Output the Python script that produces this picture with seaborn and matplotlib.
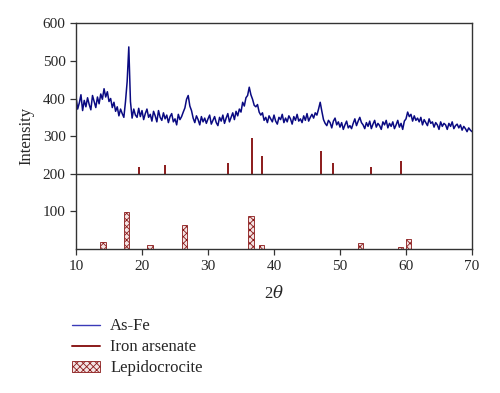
import numpy as np
import pandas as pd
import matplotlib
matplotlib.use('Agg')
import matplotlib.pyplot as plt
import seaborn as sns
from matplotlib.lines import Line2D
from matplotlib.patches import Patch

# As-Fe pattern, every 0.25 deg from 10 to 70
two_theta = np.arange(0, 241) * 0.25 + 10
as_fe = [
    405, 372, 388, 410, 368, 395, 378, 402,
    384, 370, 408, 392, 376, 404, 386, 412,
    398, 426, 404, 418, 392, 400, 376, 390,
    366, 378, 354, 372, 360, 350, 392, 445,
    537, 392, 348, 372, 356, 350, 374, 352,
    368, 344, 360, 372, 350, 358, 340, 366,
    354, 338, 368, 350, 342, 362, 346, 356,
    336, 352, 360, 338, 346, 330, 358, 344,
    352, 364, 375, 398, 408, 380, 368, 348,
    336, 354, 344, 330, 352, 338, 348, 334,
    346, 356, 332, 342, 352, 336, 328, 350,
    340, 356, 334, 348, 360, 338, 350, 362,
    344, 366, 354, 372, 364, 390, 380, 402,
    408, 430, 410, 398, 382, 378, 384, 364,
    356, 362, 342, 350, 336, 354, 346, 338,
    356, 340, 332, 350, 344, 358, 336, 348,
    338, 354, 346, 332, 352, 342, 358, 340,
    346, 336, 354, 342, 360, 340, 350, 358,
    348, 362, 356, 372, 390, 366, 344, 334,
    328, 342, 336, 322, 340, 348, 330, 338,
    324, 336, 318, 330, 340, 322, 328, 320,
    334, 346, 328, 340, 350, 336, 330, 320,
    336, 326, 340, 320, 332, 342, 324, 334,
    328, 318, 338, 330, 342, 322, 334, 326,
    338, 320, 330, 342, 324, 334, 318, 340,
    346, 364, 352, 358, 340, 354, 342, 348,
    338, 350, 330, 344, 336, 328, 346, 334,
    338, 324, 336, 330, 318, 338, 326, 334,
    330, 318, 334, 326, 338, 320, 328, 332,
    322, 330, 316, 326, 320, 312, 322, 316,
    312,
]

# Iron arsenate reference lines (drawn up from the 200 baseline)
ars_pos = [19.5, 23.5, 33.0, 36.6, 38.2, 47.1, 49.0, 54.7, 59.2]
ars_top = [218, 224, 230, 295, 248, 261, 230, 219, 233]
ars_base = 200

# Lepidocrocite reference bars
lep_pos = [14.1, 17.7, 21.2, 26.4, 36.5, 38.1, 53.1, 59.2, 60.4]
lep_int = [19, 99, 11, 63, 88, 10, 16, 6, 28]

sns.set_style('ticks')
plt.rcParams['font.family'] = ['Liberation Serif', 'DejaVu Serif']
plt.rcParams['hatch.linewidth'] = 0.6
plt.rcParams['mathtext.fontset'] = 'dejavuserif'

blue = '#0a0a82'
red = '#8b1a1a'

fig = plt.figure(figsize=(5, 3.93), dpi=100)
ax = fig.add_axes([0.152, 0.366, 0.792, 0.575])

df = pd.DataFrame({'2theta': two_theta, 'I': as_fe})
sns.lineplot(data=df, x='2theta', y='I', ax=ax, color=blue, lw=1.1)

ax.vlines(ars_pos, ars_base, ars_top, color=red, lw=1.4)
ax.axhline(200, color='#333333', lw=1.0)

ax.bar(lep_pos, lep_int, width=0.8, facecolor='#f3e3e3', edgecolor=red,
       hatch='xxxxx', lw=0.6)

ax.set_xlim(10, 70)
ax.set_ylim(0, 600)
ax.set_xticks(range(10, 71, 10))
ax.set_yticks(range(100, 601, 100))
ax.tick_params(labelsize=11, length=4, width=0.9, color='#333333')
for s in ax.spines.values():
    s.set_color('#333333')
    s.set_linewidth(1.0)

ax.set_xlabel(r'2$\it{\theta}$', fontsize=12, labelpad=9)
ax.set_ylabel('Intensity', fontsize=12, labelpad=6)

handles = [
    Line2D([], [], color='#3a3ab8', lw=1.0),
    Line2D([], [], color=red, lw=1.4),
    Patch(facecolor='#f3e3e3', edgecolor=red, hatch='xxxxx', lw=0.6),
]
fig.legend(handles, ['As-Fe', 'Iron arsenate', 'Lepidocrocite'],
           loc='upper left', bbox_to_anchor=(0.114, 0.228), frameon=False,
           fontsize=12, handlelength=1.7, handletextpad=0.6, labelspacing=0.3)

fig.savefig('out.png', dpi=100)
